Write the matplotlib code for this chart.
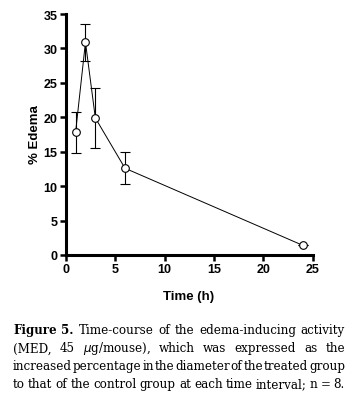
import matplotlib
matplotlib.use('Agg')
import matplotlib.pyplot as plt

# data
time_h = [1, 2, 3, 6, 24]
edema = [17.8, 30.9, 19.9, 12.6, 1.4]
edema_err = [3.0, 2.7, 4.4, 2.3, 0.0]

x_ticks = [0, 5, 10, 15, 20, 25]
y_ticks = [0, 5, 10, 15, 20, 25, 30, 35]

CAPTION = [
    [('Figure 5.', 'bold'), ('Time-course of the edema-inducing activity', 'normal')],
    [('(MED, 45 $\\mu$g/mouse), which was expressed as the', 'normal')],
    [('increased percentage in the diameter of the treated group', 'normal')],
    [('to that of the control group at each time interval; n = 8.', 'normal')],
]

W, H = 352, 402
fig = plt.figure(figsize=(W / 100, H / 100), dpi=100)
ax = fig.add_axes([65.7 / W, 1 - 256 / H, (312.7 - 65.7) / W, (256 - 15) / H])

ax.errorbar(time_h, edema, yerr=edema_err, fmt='-', color='black', lw=0.7,
            marker='o', mfc='white', mec='black', ms=5.5, mew=0.8,
            ecolor='black', elinewidth=0.8, capsize=3.5, capthick=0.8)

ax.set_xlim(0, 25)
ax.set_ylim(0, 35)
ax.set_xticks(x_ticks)
ax.set_yticks(y_ticks)
for s in ['top', 'right']:
    ax.spines[s].set_visible(False)
for s in ['left', 'bottom']:
    ax.spines[s].set_linewidth(2.2)
ax.tick_params(direction='out', length=4, width=1.8, pad=2)
for lab in ax.get_xticklabels() + ax.get_yticklabels():
    lab.set_fontfamily('Liberation Sans')
    lab.set_fontweight('bold')
    lab.set_fontsize(9)

fig.text(35 / W, 1 - 135 / H, '% Edema', rotation=90, ha='center', va='center',
         family='Liberation Sans', fontweight='bold', fontsize=9.5)
fig.text(189 / W, 1 - 297 / H, 'Time (h)', ha='center', va='center',
         family='Liberation Sans', fontweight='bold', fontsize=9.5)

# justified caption
fig.canvas.draw()
renderer = fig.canvas.get_renderer()
left, right = 13, 345
line_y = [331, 349, 367, 385]
fs = 8.6
for i, parts in enumerate(CAPTION):
    words = []
    for txt, wt in parts:
        for w in txt.split(' '):
            words.append((w, wt))
    widths = []
    for w, wt in words:
        t = fig.text(0, 0, w, family='DejaVu Serif', fontweight=wt, fontsize=fs)
        widths.append(t.get_window_extent(renderer).width)
        t.remove()
    gap = (right - left - sum(widths)) / (len(words) - 1)
    x = left
    for (w, wt), wd in zip(words, widths):
        fig.text(x / W, 1 - line_y[i] / H, w, family='DejaVu Serif', fontweight=wt,
                 fontsize=fs, ha='left', va='center')
        x += wd + gap

fig.savefig('out.png', dpi=100)
